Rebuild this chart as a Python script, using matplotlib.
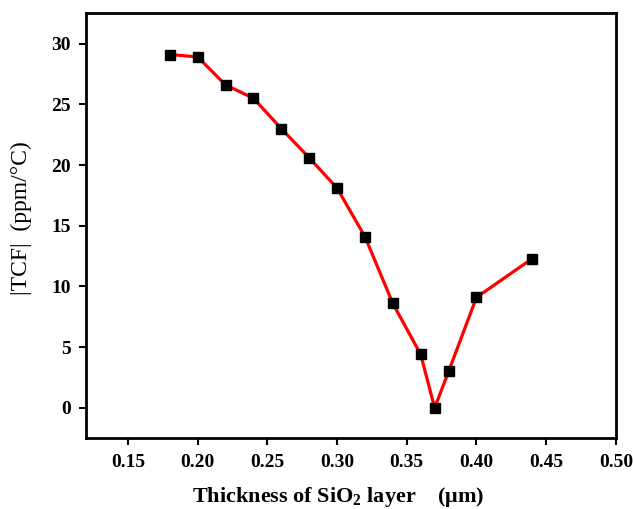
import matplotlib
matplotlib.use("Agg")
import matplotlib.pyplot as plt

thickness = [0.18, 0.20, 0.22, 0.24, 0.26, 0.28, 0.30, 0.32, 0.34, 0.36, 0.37, 0.38, 0.40, 0.44]
tcf = [29.1, 28.9, 26.6, 25.5, 23.0, 20.6, 18.1, 14.1, 8.6, 4.4, 0.0, 3.0, 9.1, 12.3]
xticks = [0.15, 0.20, 0.25, 0.30, 0.35, 0.40, 0.45, 0.50]
yticks = [0, 5, 10, 15, 20, 25, 30]

plt.rcParams['font.family'] = ['Liberation Serif', 'DejaVu Serif']
plt.rcParams['font.weight'] = 'bold'
plt.rcParams['mathtext.fontset'] = 'custom'
plt.rcParams['mathtext.rm'] = 'Liberation Serif:bold'
plt.rcParams['mathtext.default'] = 'rm'

fig = plt.figure(figsize=(6.33, 5.09), dpi=100)
ax = fig.add_axes([0.136, 0.139, 0.837, 0.835])
ax.plot(thickness, tcf, color='red', lw=2.3, marker='s', markersize=6.5,
        markerfacecolor='black', markeredgecolor='black', zorder=3)
ax.set_xlim(0.12, 0.50)
ax.set_ylim(-2.5, 32.5)
ax.set_xticks(xticks)
ax.set_xticklabels([f"{v:.2f}" for v in xticks])
ax.set_yticks(yticks)
ax.set_yticklabels([str(v) for v in yticks])
for s in ax.spines.values():
    s.set_linewidth(2)
ax.tick_params(direction='out', length=5, width=1.5, labelsize=14, pad=6)
for lbl in ax.get_xticklabels() + ax.get_yticklabels():
    lbl.set_fontweight('bold')
ax.set_xlabel(r"Thickness of SiO$_2$ layer    (μm)", fontsize=16, fontweight='bold')
ax.xaxis.set_label_coords(0.475, -0.11)
ax.set_ylabel("|TCF|  (ppm/°C)", fontsize=17, fontweight='normal')
ax.yaxis.set_label_coords(-0.103, 0.518)
fig.savefig("out.png", dpi=100)
